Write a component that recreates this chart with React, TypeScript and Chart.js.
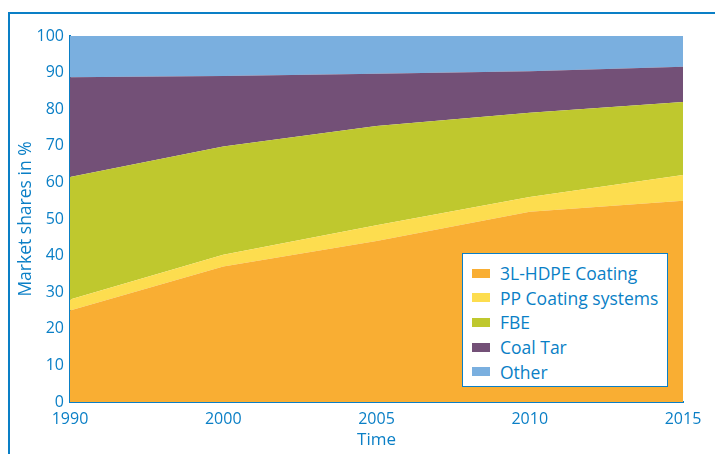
import React, { useEffect, useRef } from "react";
import { Chart, registerables } from "chart.js";

Chart.register(...registerables);

// ---- data ----
const years = ["1990", "2000", "2005", "2010", "2015"];
const hdpe = [25, 37, 44, 52, 55];
const ppCoating = [3, 3.2, 4.3, 4, 7];
const fbe = [33.5, 29.6, 27.1, 23, 20];
const coalTar = [27.2, 19.3, 14.3, 11.4, 9.6];
const other = [11.3, 10.9, 10.3, 9.6, 8.4];
const seriesNames = ["3L-HDPE Coating", "PP Coating systems", "FBE", "Coal Tar", "Other"];
const seriesValues = [hdpe, ppCoating, fbe, coalTar, other];
const seriesColors = ["#F9AE33", "#FDDD4F", "#BFC82E", "#735077", "#7AAFDF"];
const yAxisTitle = "Market shares in %";
const xAxisTitle = "Time";

const BLUE = "#0A7FC6";
const FONT = "'Open Sans', 'Liberation Sans', sans-serif";

export default function App() {
  const canvasRef = useRef<HTMLCanvasElement | null>(null);

  useEffect(() => {
    const ctx = canvasRef.current;
    if (!ctx) return;
    const chart = new Chart(ctx, {
      type: "line",
      data: {
        labels: years,
        datasets: seriesNames.map((name, i) => ({
          label: name,
          data: seriesValues[i],
          backgroundColor: seriesColors[i],
          borderColor: seriesColors[i],
          borderWidth: 0,
          pointRadius: 0,
          tension: 0,
          fill: i === 0 ? "origin" : "-1",
        })),
      },
      options: {
        animation: false,
        responsive: false,
        events: [],
        layout: { padding: { left: 0, top: 36, right: 32, bottom: 0 } },
        plugins: {
          legend: { display: false },
          tooltip: { enabled: false },
        },
        scales: {
          x: {
            type: "category",
            offset: false,
            z: 1,
            grid: { display: false, drawTicks: false },
            border: { display: true, color: BLUE, width: 2 },
            ticks: {
              color: BLUE,
              font: { family: FONT, size: 16 },
              padding: 8,
              maxRotation: 0,
            },
            title: {
              display: true,
              text: xAxisTitle,
              color: BLUE,
              font: { family: FONT, size: 17 },
              padding: { top: 0, bottom: 4 },
            },
            afterFit: (scale: any) => {
              scale.height = 52;
            },
          },
          y: {
            stacked: true,
            min: 0,
            max: 100,
            z: 1,
            grid: { display: false, drawTicks: false },
            border: { display: true, color: BLUE, width: 2 },
            ticks: {
              stepSize: 10,
              color: BLUE,
              font: { family: FONT, size: 16 },
              padding: 6,
            },
            title: {
              display: true,
              text: yAxisTitle,
              color: BLUE,
              font: { family: FONT, size: 17.5 },
              padding: { top: 16, bottom: 0 },
            },
            afterFit: (scale: any) => {
              scale.width = 70;
            },
          },
        },
      },
    });
    return () => chart.destroy();
  }, []);

  return (
    <div style={{ position: "relative", width: 707, height: 446 }}>
      <div
        style={{
          position: "fixed",
          left: 8,
          top: 12,
          width: 715,
          height: 460,
          borderTop: `2px solid ${BLUE}`,
          borderLeft: `2px solid ${BLUE}`,
          boxSizing: "border-box",
        }}
      />
      <canvas
        ref={canvasRef}
        width={715}
        height={454}
        style={{ position: "fixed", left: 0, top: 0, width: 715, height: 454 }}
      />
      <div
        style={{
          position: "fixed",
          left: 462,
          top: 253,
          width: 206,
          height: 134,
          boxSizing: "border-box",
          border: `1px solid ${BLUE}`,
          background: "#FFFFFF",
          fontFamily: FONT,
          fontSize: 17.5,
          color: BLUE,
          paddingTop: 7,
        }}
      >
        {seriesNames.map((name, i) => (
          <div
            key={name}
            style={{ display: "flex", alignItems: "center", height: 24.6, whiteSpace: "nowrap" }}
          >
            <span
              style={{
                display: "inline-block",
                width: 18,
                height: 9,
                marginLeft: 9,
                marginRight: 10,
                background: seriesColors[i],
              }}
            />
            <span>{name}</span>
          </div>
        ))}
      </div>
    </div>
  );
}
